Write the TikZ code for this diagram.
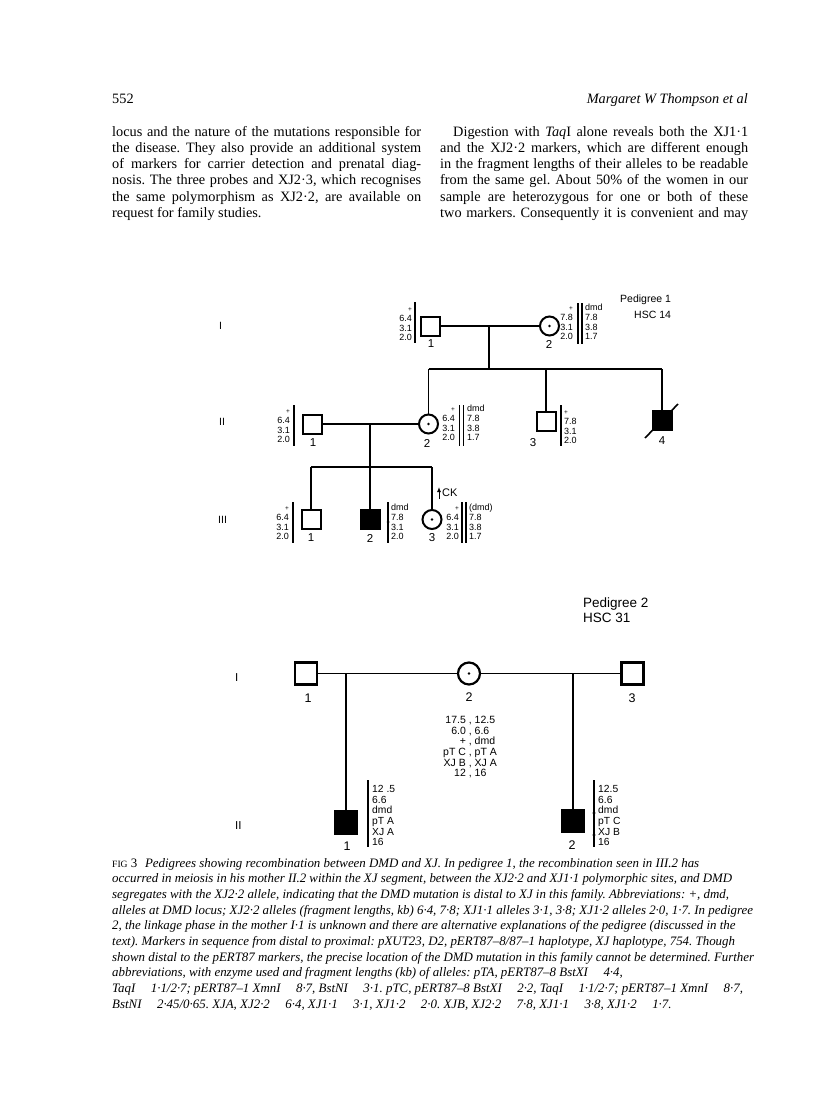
\documentclass[tikz,border=0pt]{standalone}
\usepackage{fontspec}
\setmainfont{Liberation Serif}
\setsansfont{Liberation Sans}
\usetikzlibrary{arrows.meta}
\newcommand{\pl}{{\fontsize{6.5}{6.5}\selectfont +}}
\newcommand{\jl}[2]{\makebox[#1][s]{#2}}
\frenchspacing
\begin{document}
\begin{tikzpicture}[x=1pt,y=-1pt,
  body/.style={font=\fontsize{14.3}{16}\selectfont, inner sep=0, anchor=base west},
  bodyr/.style={font=\fontsize{14.3}{16}\selectfont, inner sep=0, anchor=base east},
  captxt/.style={font=\fontsize{12.9}{15}\selectfont\itshape, inner sep=0, anchor=base west},
  lnk/.style={line width=1.3pt},
  lnkb/.style={line width=1.6pt},
  sq/.style={draw, line width=2pt, rectangle, minimum size=19pt, inner sep=0},
  ci/.style={draw, line width=2pt, circle, minimum size=19pt, inner sep=0},
  sqb/.style={draw, line width=2.2pt, rectangle, minimum size=22pt, inner sep=0},
  cib/.style={draw, line width=2.2pt, circle, minimum size=22pt, inner sep=0},
  aff/.style={fill=black},
  idn/.style={font=\sffamily\fontsize{11.5}{11.5}\selectfont, inner sep=0},
  idnb/.style={font=\sffamily\fontsize{12.5}{12.5}\selectfont, inner sep=0},
  alr/.style={font=\sffamily\fontsize{9}{9.7}\selectfont, inner sep=0, align=right, anchor=south east},
  all/.style={font=\sffamily\fontsize{9}{9.7}\selectfont, inner sep=0, align=left, anchor=south west},
  allb/.style={font=\sffamily\fontsize{10.3}{10.6}\selectfont, inner sep=0, align=left, anchor=south west},
  bar/.style={line width=1.2pt},
  gen/.style={font=\sffamily\fontsize{10.5}{10.5}\selectfont, inner sep=0, anchor=west},
  genb/.style={font=\sffamily\fontsize{11.5}{11.5}\selectfont, inner sep=0, anchor=west},
]
\fill[white] (0,0) rectangle (816,1110);
\useasboundingbox (0,0) rectangle (816,1110);

% ---------- header ----------
\node[body] (pg) at (112,104) {552};
\node[bodyr, font=\fontsize{14.3}{16}\selectfont\itshape] (auth) at (748,104) {Margaret W Thompson et al};

% ---------- body text ----------
\node[body] (l1) at (112,137) {\jl{309pt}{locus and the nature of the mutations responsible for}};
\node[body] (l2) at (112,153) {\jl{309pt}{the disease. They also provide an additional system}};
\node[body] (l3) at (112,169) {\jl{309pt}{of markers for carrier detection and prenatal diag-}};
\node[body] (l4) at (112,185) {\jl{309pt}{nosis. The three probes and XJ2·3, which recognises}};
\node[body] (l5) at (112,201) {\jl{309pt}{the same polymorphism as XJ2·2, are available on}};
\node[body] (l6) at (112,217) {request for family studies.};

\node[body] (r1) at (453,137) {\jl{295pt}{Digestion with \textit{Taq}I alone reveals both the XJ1·1}};
\node[body] (r2) at (440,153) {\jl{308pt}{and the XJ2·2 markers, which are different enough}};
\node[body] (r3) at (440,169) {\jl{308pt}{in the fragment lengths of their alleles to be readable}};
\node[body] (r4) at (440,185) {\jl{308pt}{from the same gel. About 50\% of the women in our}};
\node[body] (r5) at (440,201) {\jl{308pt}{sample are heterozygous for one or both of these}};
\node[body] (r6) at (440,217) {\jl{308pt}{two markers. Consequently it is convenient and may}};

% ---------- Pedigree 1 ----------
\node[font=\sffamily\fontsize{10.5}{10.5}\selectfont, inner sep=0, anchor=west] (t1a) at (620,300) {Pedigree 1};
\node[font=\sffamily\fontsize{10.5}{10.5}\selectfont, inner sep=0, anchor=west] (t1b) at (634,315) {HSC 14};
\node[gen] (g1) at (219,326) {I};
\node[gen] (g2) at (219,422) {II};
\node[gen] (g3) at (218,520) {III};

% generation I
\node[sq] (aI1) at (430,326) {};
\node[ci] (aI2) at (549.5,326) {};
\fill (aI2) circle (1.3pt);
\draw[lnk] (aI1.east) -- (aI2.west);
\coordinate (am1) at (489,326);
\coordinate (as1) at (489,369);
\coordinate (asL) at (428.5,369);
\coordinate (asM) at (546,369);
\coordinate (asR) at (662,369);
\draw[lnk] (am1) -- (as1);
\draw[lnk] (asL) -- (asR);
\node[idn] (nI1) at (431,344) {1};
\node[idn] (nI2) at (549,344) {2};

\node[alr] (xI1) at (412,341) {\pl\\6.4\\3.1\\2.0};
\draw[bar] (415,302) -- (415,343);
\node[alr] (xI2a) at (573,340) {\pl\\7.8\\3.1\\2.0};
\draw[bar] (578,303) -- (578,344);
\draw[bar] (582,303) -- (582,344);
\node[all] (xI2b) at (585,340) {dmd\\7.8\\3.8\\1.7};

% generation II
\node[sq] (aII1) at (312.5,424) {};
\node[ci] (aII2) at (428.5,424) {};
\fill (aII2) circle (1.3pt);
\node[sq] (aII3) at (546,421.5) {};
\node[sq, aff] (aII4) at (662,420) {};
\draw[lnk] (asL) -- (aII2.north);
\draw[lnk] (asM) -- (aII3.north);
\draw[lnk] (asR) -- (aII4.north);
\coordinate (d4a) at (645,438);
\coordinate (d4b) at (678,404);
\draw[line width=1.6pt] (d4a) -- (d4b);
\draw[lnk] (aII1.east) -- (aII2.west);
\node[idn] (nII1) at (313,443) {1};
\node[idn] (nII2) at (427,443) {2};
\node[idn] (nII3) at (533,443) {3};
\node[idn] (nII4) at (662,441) {4};

\node[alr] (xII1) at (290,443) {\pl\\6.4\\3.1\\2.0};
\draw[bar] (294,405) -- (294,446);
\node[alr] (xII2a) at (455,441) {\pl\\6.4\\3.1\\2.0};
\draw[bar] (459.5,405) -- (459.5,446);
\draw[bar] (463.5,405) -- (463.5,446);
\node[all] (xII2b) at (467,441) {dmd\\7.8\\3.8\\1.7};
\draw[bar] (561,405) -- (561,446);
\node[all] (xII3) at (564,444) {\pl\\7.8\\3.1\\2.0};

% generation III
\coordinate (bm1) at (370,424);
\coordinate (bs1) at (370,467);
\coordinate (bsL) at (311,467);
\coordinate (bsR) at (432,467);
\draw[lnk] (bm1) -- (bs1);
\draw[lnk] (bsL) -- (bsR);
\node[sq] (aIII1) at (311,519.5) {};
\node[sq, aff] (aIII2) at (370,519.5) {};
\node[ci] (aIII3) at (432,519.5) {};
\fill (aIII3) circle (1.3pt);
\draw[lnk] (bsL) -- (aIII1.north);
\draw[lnk] (bs1) -- (aIII2.north);
\draw[lnk] (bsR) -- (aIII3.north);
\node[idn] (nIII1) at (311,538) {1};
\node[idn] (nIII2) at (370,538) {2};
\node[idn] (nIII3) at (432,538) {3};

\node[alr] (xIII1) at (289,540) {\pl\\6.4\\3.1\\2.0};
\draw[bar] (293,502) -- (293,543);
\draw[bar] (388,502) -- (388,543);
\fill (388,522) circle (1.5pt);
\node[all] (xIII2) at (391,540) {dmd\\7.8\\3.1\\2.0};
\node[alr] (xIII3a) at (459,540) {\pl\\6.4\\3.1\\2.0};
\draw[bar] (462,502) -- (462,543);
\draw[bar] (466,502) -- (466,543);
\node[all] (xIII3b) at (469,540) {(dmd)\\7.8\\3.8\\1.7};

\coordinate (cka) at (439,499);
\coordinate (ckb) at (439,487);
\draw[line width=1pt, -{Latex[length=5pt,width=4pt]}] (cka) -- (ckb);
\node[font=\sffamily\fontsize{11}{11}\selectfont, inner sep=0, anchor=west] (ck) at (442,493) {CK};

% ---------- Pedigree 2 ----------
\node[font=\sffamily\fontsize{13.5}{13.5}\selectfont, inner sep=0, anchor=west] (t2a) at (583,604) {Pedigree 2};
\node[font=\sffamily\fontsize{13.5}{13.5}\selectfont, inner sep=0, anchor=west] (t2b) at (583,618) {HSC 31};
\node[genb] (h1) at (235,678) {I};
\node[genb] (h2) at (235,826) {II};

\node[sqb] (cI1) at (306,673.5) {};
\node[cib] (cI2) at (469,673.5) {};
\fill (cI2) circle (1.4pt);
\node[sqb] (cI3) at (632.5,673.5) {};
\draw[lnkb] (cI1.east) -- (cI2.west);
\draw[lnkb] (cI2.east) -- (cI3.west);
\node[idnb] (mI1) at (308,698) {1};
\node[idnb] (mI2) at (469,697) {2};
\node[idnb] (mI3) at (632,698) {3};

\node[font=\sffamily\fontsize{10.5}{10.7}\selectfont, inner sep=0] (cmid) at (470,748)
  {\renewcommand{\arraystretch}{1}\begin{tabular}{@{}r@{ , }l@{}}17.5&12.5\\6.0&6.6\\+&dmd\\pT C&pT A\\XJ B&XJ A\\12&16\end{tabular}};

\coordinate (ca) at (346,673.5);
\coordinate (cb) at (573,673.5);
\node[sqb, aff] (cII1) at (346,822.5) {};
\node[sqb, aff] (cII2) at (573,821) {};
\draw[lnkb] (ca) -- (cII1.north);
\draw[lnkb] (cb) -- (cII2.north);
\node[idnb] (mII1) at (347,846) {1};
\node[idnb] (mII2) at (572,845) {2};

\draw[bar] (368,780) -- (368,847);
\node[allb] (yII1) at (372,846) {12 .5\\6.6\\dmd\\pT A\\XJ A\\16};
\draw[bar] (594,780) -- (594,847);
\fill (594,813) circle (1.6pt);
\fill (594,835) circle (1.6pt);
\node[allb] (yII2) at (598,846) {12.5\\6.6\\dmd\\pT C\\XJ B\\16};

% ---------- caption ----------
\node[captxt] (c1) at (112,867) {{\upshape\fontsize{9.6}{10}\selectfont FIG} {\upshape 3}\hspace{0.6em}Pedigrees showing recombination between DMD and XJ. In pedigree 1, the recombination seen in III.2 has};
\node[captxt] (c2) at (112,882.7) {occurred in meiosis in his mother II.2 within the XJ segment, between the XJ2·2 and XJ1·1 polymorphic sites, and DMD};
\node[captxt] (c3) at (112,898.3) {segregates with the XJ2·2 allele, indicating that the DMD mutation is distal to XJ in this family. Abbreviations: +, dmd,};
\node[captxt] (c4) at (112,914) {alleles at DMD locus; XJ2·2 alleles (fragment lengths, kb) 6·4, 7·8; XJ1·1 alleles 3·1, 3·8; XJ1·2 alleles 2·0, 1·7. In pedigree};
\node[captxt] (c5) at (112,929.7) {2, the linkage phase in the mother I·1 is unknown and there are alternative explanations of the pedigree (discussed in the};
\node[captxt] (c6) at (112,945.3) {text). Markers in sequence from distal to proximal: pXUT23, D2, pERT87–8/87–1 haplotype, XJ haplotype, 754. Though};
\node[captxt] (c7) at (112,961) {shown distal to the pERT87 markers, the precise location of the DMD mutation in this family cannot be determined. Further};
\node[captxt] (c8) at (112,976.7) {abbreviations, with enzyme used and fragment lengths (kb) of alleles: pTA, pERT87–8 BstXI\hspace{1.2em}4·4,};
\node[captxt] (c9) at (112,992.3) {TaqI\hspace{1.2em}1·1/2·7; pERT87–1 XmnI\hspace{1.2em}8·7, BstNI\hspace{1.2em}3·1. pTC, pERT87–8 BstXI\hspace{1.2em}2·2, TaqI\hspace{1.2em}1·1/2·7; pERT87–1 XmnI\hspace{1.2em}8·7,};
\node[captxt] (c10) at (112,1008) {BstNI\hspace{1.2em}2·45/0·65. XJA, XJ2·2\hspace{1.2em}6·4, XJ1·1\hspace{1.2em}3·1, XJ1·2\hspace{1.2em}2·0. XJB, XJ2·2\hspace{1.2em}7·8, XJ1·1\hspace{1.2em}3·8, XJ1·2\hspace{1.2em}1·7.};
\end{tikzpicture}
\end{document}
